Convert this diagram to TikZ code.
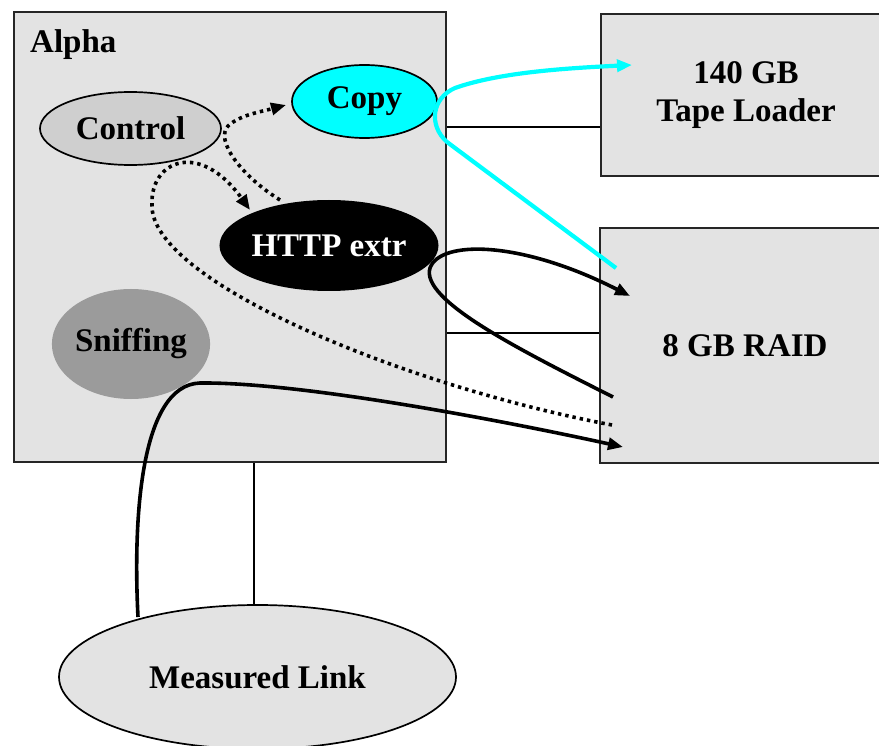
\documentclass[tikz,border=0pt]{standalone}
\usepackage{fontspec}
\setmainfont{Liberation Serif}
\usetikzlibrary{shapes.geometric,arrows.meta,calc}
\definecolor{boxgray}{HTML}{E3E3E3}
\definecolor{ctrlgray}{HTML}{CFCFCF}
\definecolor{sniffgray}{HTML}{9B9B9B}
\definecolor{cyanc}{HTML}{00FFFF}
\begin{document}
\begin{tikzpicture}[x=1pt,y=-1pt,
  lbl/.style={font=\fontsize{33}{38}\selectfont\bfseries},
  box/.style={draw=black!85, line width=2pt, fill=boxgray, rectangle, inner sep=0pt, anchor=north west},
  ell/.style={ellipse, inner sep=0pt, lbl, line width=1.7pt},
  tip/.style={-{Triangle[length=15pt,width=12pt]}},
  dotl/.style={line width=3.6pt, dash pattern=on 3.4pt off 4pt},
  solidl/.style={line width=3.6pt},
  cyl/.style={line width=4.2pt, draw=cyanc},
  link/.style={line width=1.8pt}
]
\useasboundingbox (0,0) rectangle (879,746);
\clip (0,0) rectangle (879,746);

% boxes
\node[box, minimum width=432pt, minimum height=450pt] (alpha) at (13,11) {};
\node[box, minimum width=290pt, minimum height=162pt, lbl, align=center] (tape) at (600,13) {140 GB\\[0pt]Tape Loader};
\node[box, minimum width=290pt, minimum height=235pt, lbl] (raid) at (599,227) {8 GB RAID};
\node[lbl, anchor=base west, inner sep=0pt] (alphalbl) at (30,53) {Alpha};

% measured link
\node[ell, draw, fill=boxgray, minimum width=397pt, minimum height=144pt] (mlink) at (257.5,677) {Measured Link};

% plain connecting lines
\draw[link] (alpha.east |- 0,127) -- (tape.west |- 0,127);
\draw[link] (alpha.east |- 0,333) -- (raid.west |- 0,333);
\draw[link] (alpha.south -| 254,0) -- (mlink.north -| 254,0);

% inner ellipses
\node[ell, draw, fill=ctrlgray, minimum width=181pt, minimum height=73pt] (control) at (130.5,128.5) {Control};
\node[ell, draw, fill=cyanc, minimum width=145pt, minimum height=73pt] (copy) at (364.5,101.5) {Copy};
\node[ell, fill=black, text=white, minimum width=218pt, minimum height=91pt] (http) at (329,245.5) {HTTP extr};
\node[ell, fill=sniffgray, minimum width=146pt, minimum height=110pt] (sniff) at (131,344) {Sniffing};

% free ends
\coordinate (cyS) at (616,268);
\coordinate (cyE) at (632,65);
\coordinate (blS) at (613,397);
\coordinate (blE) at (630,296);
\coordinate (dS) at (612,425);
\coordinate (dE) at (250,210);
\coordinate (hS) at (280,200);
\coordinate (cE) at (286,105);
\coordinate (lS) at (138,617);
\coordinate (lE) at (623,447);

% curves
\draw[cyl, tip] (cyS) -- (447,142) .. controls (428,125) and (432,98) .. (455,88) .. controls (500,72) and (570,68) .. (cyE);
\draw[solidl, tip] (blS) .. controls (520,350) and (420,300) .. (430,268) .. controls (440,240) and (520,240) .. (blE);
\draw[dotl, tip] (dS) .. controls (400,385) and (150,280) .. (152,205) .. controls (150,160) and (200,140) .. (dE);
\draw[dotl, tip] (hS) .. controls (240,175) and (215,140) .. (228,126) .. controls (240,115) and (260,112) .. (cE);
\draw[solidl, tip] (lS) .. controls (133,520) and (140,385) .. (200,383) .. controls (300,382) and (500,420) .. (lE);
\end{tikzpicture}
\end{document}
